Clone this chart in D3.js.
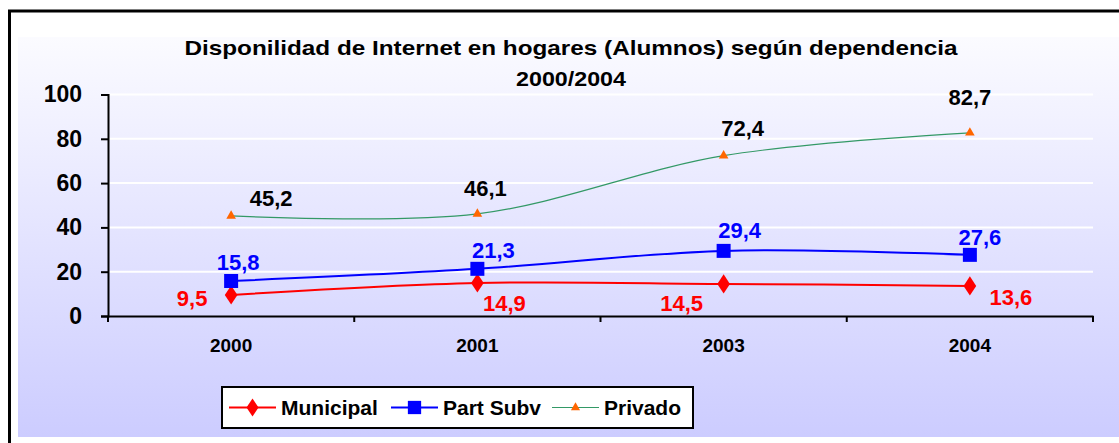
<!DOCTYPE html>
<html>
<head>
<meta charset="utf-8">
<script src="https://cdn.jsdelivr.net/npm/d3@7"></script>
<style>
  body { margin: 0; background: #fff; }
  svg { display: block; font-family: Arial, "Liberation Sans", sans-serif; font-weight: bold; }
</style>
</head>
<body>
<svg id="chart" width="1119" height="443"></svg>
<script>
let years = ["2000", "2001", "2003", "2004"],
  municipal = [9.5, 14.9, 14.5, 13.6],
  partSubv = [15.8, 21.3, 29.4, 27.6],
  privado = [45.2, 46.1, 72.4, 82.7],
  yTicks = [0, 20, 40, 60, 80, 100],
  titleLines = ["Disponilidad de Internet en hogares (Alumnos) según dependencia", "2000/2004"];

let series = [
  {name: "Municipal", values: municipal, line: "#ff0000", mark: "#ff0000", shape: d3.symbolDiamond, size: 105, width: 2,
   nudge: [[-39, 3], [27, 20], [-42, 19], [41, 11]]},
  {name: "Part Subv", values: partSubv, line: "#0000ff", mark: "#0000ff", shape: d3.symbolSquare, size: 196, width: 2,
   nudge: [[7, -19], [16, -19], [16, -21], [10, -18]]},
  {name: "Privado", values: privado, line: "#339966", mark: "#ff6600", shape: d3.symbolTriangle, size: 40, width: 1.2, labelColor: "#000",
   nudge: [[40, -18], [8, -26], [19, -28], [0, -36]]}
];

let margins = {left: 108, right: 1093, top: 94.5, bottom: 316};

function fmt(v) { return d3.format(".1f")(v).replace(".", ","); }

function draw() {
  let svg = d3.select("#chart");

  // background gradient like the excel chart area
  let grad = svg.append("defs").append("linearGradient")
    .attr("id", "bg").attr("x1", 0).attr("y1", 0).attr("x2", 0).attr("y2", 1);
  grad.append("stop").attr("offset", "0%").attr("stop-color", "#fbfbff");
  grad.append("stop").attr("offset", "100%").attr("stop-color", "#ccccff");

  svg.append("rect").attrs({x: 18, y: 37, width: 1101, height: 400, fill: "url(#bg)"});
  svg.append("line").attrs({x1: 8, x2: 1119, y1: 11, y2: 11, stroke: "#000", "stroke-width": 3});
  svg.append("line").attrs({x1: 9.5, x2: 9.5, y1: 10, y2: 443, stroke: "#000", "stroke-width": 3});

  let x = d3.scaleBand().domain(years).range([margins.left, margins.right]).padding(0),
    y = d3.scaleLinear().domain([0, 100]).range([margins.bottom, margins.top]),
    cx = d => x(d) + x.bandwidth() / 2;

  // gridlines
  svg.append("g").selectAll("line").data(yTicks.filter(t => t > 0)).enter()
    .append("line")
    .attrs({x1: margins.left, x2: margins.right, y1: d => y(d), y2: d => y(d), stroke: "#fff", "stroke-width": 2});

  // title, stretched a bit to the width of the original
  svg.append("text").attrs({x: 571, y: 55, "text-anchor": "middle", "font-size": 21})
    .selectAll("tspan").data(titleLines).enter()
    .append("tspan")
    .attrs({x: 571, dy: (d, i) => i ? 31 : 0, textLength: (d, i) => i ? 110 : 773, lengthAdjust: "spacingAndGlyphs"})
    .text(d => d);

  // axes
  let yAxis = svg.append("g").attr("transform", `translate(${margins.left},0)`)
    .call(d3.axisLeft(y).tickValues(yTicks).tickSize(7).tickPadding(19));
  let xAxis = svg.append("g").attr("transform", `translate(0,${margins.bottom})`)
    .call(d3.axisBottom(x).tickSize(0).tickPadding(23));
  xAxis.selectAll(".tick line").remove();
  xAxis.append("g").selectAll("line").data(years.concat(["end"])).enter()
    .append("line")
    .attrs({x1: (d, i) => margins.left + i * x.bandwidth(), x2: (d, i) => margins.left + i * x.bandwidth(),
            y1: 0, y2: 6, stroke: "#000", "stroke-width": 2});
  [yAxis, xAxis].forEach(a => {
    a.select(".domain").attrs({stroke: "#000", "stroke-width": 2});
    a.selectAll(".tick line").attrs({stroke: "#000", "stroke-width": 2});
    a.selectAll("text").attrs({fill: "#000", "font-family": null, "font-weight": "bold"});
  });
  yAxis.selectAll("text").attr("font-size", 23);
  xAxis.selectAll("text").attr("font-size", 19);

  // lines, markers and data labels
  let line = d3.line().x((d, i) => cx(years[i])).y(d => y(d)).curve(d3.curveCardinal);
  series.forEach(s => {
    let g = svg.append("g");
    g.append("path").datum(s.values)
      .attrs({d: line, fill: "none", stroke: s.line, "stroke-width": s.width});
    g.selectAll("path.mk").data(s.values).enter()
      .append("path")
      .attrs({class: "mk", d: d3.symbol().type(s.shape).size(s.size),
              transform: (d, i) => `translate(${cx(years[i])},${y(d)})${s.shape == d3.symbolDiamond ? "scale(1.15,1)" : ""}`,
              fill: s.mark});
    g.selectAll("text").data(s.values).enter()
      .append("text")
      .attrs({x: (d, i) => cx(years[i]) + s.nudge[i][0], y: (d, i) => y(d) + s.nudge[i][1],
              dy: "0.36em", "text-anchor": "middle", "font-size": 22, fill: s.labelColor || s.mark})
      .text(fmt);
  });

  legend(svg);
}

function legend(svg) {
  let lg = svg.append("g").attr("transform", "translate(222,387)");
  lg.append("rect").attrs({x: 0, y: 0, width: 471, height: 41, fill: "#fff", stroke: "#000", "stroke-width": 2});
  let starts = [7, 169, 330];
  series.forEach((s, i) => {
    let item = lg.append("g").attr("transform", `translate(${starts[i]},20.5)`);
    item.append("line").attrs({x1: 0, x2: 47, y1: 0, y2: 0, stroke: s.line, "stroke-width": s.width});
    item.append("path").attrs({d: d3.symbol().type(s.shape).size(s.size * 0.9),
      transform: `translate(23.5,0)${s.shape == d3.symbolDiamond ? "scale(1.15,1)" : ""}`, fill: s.mark});
    item.append("text").attrs({x: 52, y: 0, dy: "0.36em", "font-size": 21, fill: "#000"}).text(s.name);
  });
}

// small helper so .attrs works without the d3-selection-multi plugin
d3.selection.prototype.attrs = function(obj) {
  for (let k in obj) this.attr(k, obj[k]);
  return this;
};

draw();
</script>
</body>
</html>
